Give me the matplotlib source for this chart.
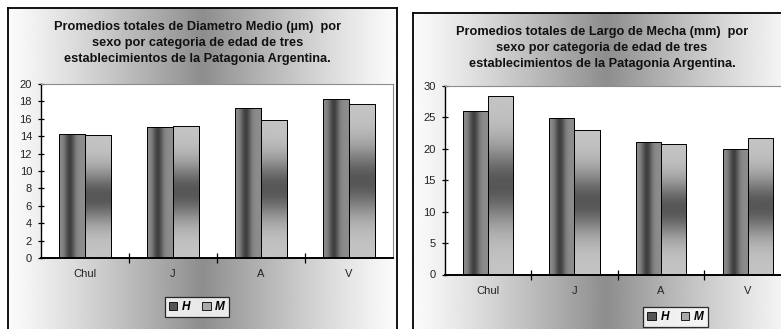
import numpy as np
import matplotlib
matplotlib.use("Agg")
import matplotlib.pyplot as plt
from matplotlib.patches import Rectangle

plt.rcParams['font.family'] = ['Liberation Sans', 'DejaVu Sans']

# ---- data ----
categories = ["Chul", "J", "A", "V"]
series_names = ["H", "M"]

diametro_H = [14.3, 15.0, 17.25, 18.3]
diametro_M = [14.1, 15.2, 15.9, 17.75]

largo_H = [25.95, 24.85, 21.05, 20.05]
largo_M = [28.45, 22.95, 20.75, 21.75]

title_diametro = ("Promedios totales de Diametro Medio (µm)  por\n"
                  "sexo por categoria de edad de tres\n"
                  "establecimientos de la Patagonia Argentina.")
title_largo = ("Promedios totales de Largo de Mecha (mm)  por\n"
               "sexo por categoria de edad de tres\n"
               "establecimientos de la Patagonia Argentina.")

W, H = 781, 329
fig = plt.figure(figsize=(W / 100, H / 100), dpi=100)


def px_axes(x0, y0, x1, y1, **kw):
    return fig.add_axes([x0 / W, 1 - y1 / H, (x1 - x0) / W, (y1 - y0) / H], **kw)


def frame_background(x0, y0, x1, y1):
    ax = px_axes(x0, y0, x1, y1, zorder=0)
    t = np.linspace(0, 1, 400)
    prof = 1 - np.abs(2 * t - 1)
    g = 0.985 - 0.43 * prof ** 1.15
    img = np.tile(g, (2, 1))
    ax.imshow(img, cmap="gray", vmin=0, vmax=1, aspect="auto",
              extent=[0, 1, 0, 1], interpolation="bilinear")
    ax.set_xlim(0, 1)
    ax.set_ylim(0, 1)
    ax.set_xticks([])
    ax.set_yticks([])
    for s in ax.spines.values():
        s.set_color("black")
        s.set_linewidth(1.3)
    return ax


# horizontal gradient for H bars (dark core), vertical for M bars
h_t = np.linspace(0, 1, 64)
h_prof = 0.55 - 0.30 * np.exp(-((h_t - 0.42) / 0.2) ** 2)
H_IMG = np.tile(h_prof, (2, 1))
v_t = np.linspace(0, 1, 128)
v_prof = 0.77 - 0.43 * np.exp(-((v_t - 0.5) / 0.22) ** 2)
M_IMG = np.tile(v_prof[:, None], (1, 2))


def bar_chart(px_rect, vals_h, vals_m, ymax, ystep):
    ax = px_axes(*px_rect, zorder=2)
    ax.set_facecolor("white")
    x = np.arange(len(categories))
    w = 0.29
    bh = ax.bar(x - w / 2, vals_h, w, color="#555555", edgecolor="black",
                linewidth=0.7, zorder=2)
    bm = ax.bar(x + w / 2, vals_m, w, color="#aaaaaa", edgecolor="black",
                linewidth=0.7, zorder=2)
    for rects, img in ((bh, H_IMG), (bm, M_IMG)):
        for r in rects:
            im = ax.imshow(img, cmap="gray", vmin=0, vmax=1, aspect="auto",
                           interpolation="bilinear", zorder=2.5,
                           extent=[r.get_x(), r.get_x() + r.get_width(),
                                   0, r.get_height()])
            im.set_clip_path(r)
            outline = Rectangle((r.get_x(), 0), r.get_width(), r.get_height(),
                                fill=False, edgecolor="black", linewidth=0.7,
                                zorder=3)
            ax.add_patch(outline)
    ax.set_xlim(-0.5, len(categories) - 0.5)
    ax.set_ylim(0, ymax)
    ax.set_yticks(np.arange(0, ymax + 0.1, ystep))
    ax.set_xticks(np.arange(0.5, len(categories) - 1, 1.0))
    ax.set_xticklabels([])
    ax.set_xticks(x, minor=True)
    ax.set_xticklabels(categories, minor=True)
    ax.tick_params(axis="x", which="major", direction="inout", length=7,
                   width=0.9, color="black")
    ax.tick_params(axis="x", which="minor", length=0, pad=8, labelsize=8,
                   labelcolor="#222222")
    ax.tick_params(axis="y", direction="inout", length=5, width=0.9,
                   labelsize=8, pad=4, labelcolor="#222222")
    ax.spines["left"].set_color("black")
    ax.spines["left"].set_linewidth(1.0)
    ax.spines["bottom"].set_color("black")
    ax.spines["bottom"].set_linewidth(1.4)
    for s in ("top", "right"):
        ax.spines[s].set_color("#8c8c8c")
        ax.spines[s].set_linewidth(0.8)
    return ax


def legend_at(cx, cy):
    handles = [Rectangle((0, 0), 1, 1, facecolor="#555555", edgecolor="black", linewidth=0.6),
               Rectangle((0, 0), 1, 1, facecolor="#a8a8a8", edgecolor="black", linewidth=0.6)]
    leg = fig.legend(handles, series_names, loc="center",
                     bbox_to_anchor=(cx / W, 1 - cy / H), ncol=2,
                     frameon=True, fancybox=False, handlelength=0.7,
                     handleheight=0.7, handletextpad=0.4, columnspacing=1.0,
                     borderpad=0.35, borderaxespad=0,
                     prop={"weight": "bold", "style": "italic", "size": 8.5})
    leg.get_frame().set_edgecolor("black")
    leg.get_frame().set_linewidth(0.9)
    leg.set_zorder(5)


# left chart
frame_background(8, 8, 397, 345)
bar_chart((41, 84, 393, 258), diametro_H, diametro_M, 20, 2)
fig.text(197.5 / W, 1 - 43 / H, title_diametro, ha="center", va="center",
         fontsize=9.2, fontweight="bold", linespacing=1.42, zorder=4,
         color="#111111")
legend_at(197, 307)

# right chart
frame_background(413, 13, 800, 345)
bar_chart((444.5, 86, 791, 274.5), largo_H, largo_M, 30, 5)
fig.text(602 / W, 1 - 48 / H, title_largo, ha="center", va="center",
         fontsize=9.2, fontweight="bold", linespacing=1.42, zorder=4,
         color="#111111")
legend_at(675.5, 317)

fig.savefig("out.png", dpi=100)
